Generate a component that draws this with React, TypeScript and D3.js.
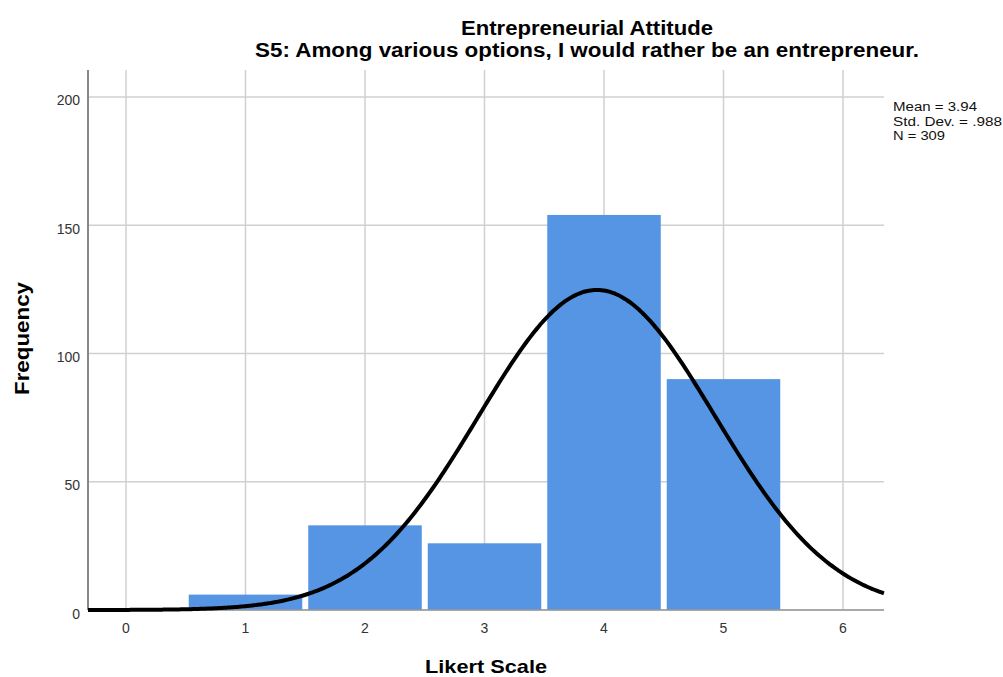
import React from "react";
import * as d3 from "d3";

const categories = [1, 2, 3, 4, 5];
const frequencies = [6, 33, 26, 154, 90];
const xTicks = [0, 1, 2, 3, 4, 5, 6];
const yTicks = [0, 50, 100, 150, 200];
const statMean = 3.94;
const statSd = 0.988;
const statN = 309;
const statLines = ["Mean = 3.94", "Std. Dev. = .988", "N = 309"];
const statWidths = [84, 109, 52];
const titleLines = ["Entrepreneurial Attitude", "S5: Among various options, I would rather be an entrepreneur."];
const titleWidths = [252, 664];

const W = 1003, H = 677;
const left = 88, right = 884, top = 70, bottom = 610;

export default function App() {
  const x = d3.scaleLinear().domain([-0.318, 6.343]).range([left, right]);
  const y = d3.scaleLinear().domain([0, 210.5]).range([bottom, top]);
  const binW = 1;
  const pdf = (v: number) =>
    (statN * binW) / (statSd * Math.sqrt(2 * Math.PI)) * Math.exp(-0.5 * ((v - statMean) / statSd) ** 2);
  const pts = d3.range(-0.318, 6.3431, 0.02).map((v) => [v, pdf(v)] as [number, number]);
  const line = d3.line<[number, number]>().x((d) => x(d[0])).y((d) => y(d[1])).curve(d3.curveBasis);
  const font = "'Liberation Sans', Arial, sans-serif";
  return (
    <svg width={W} height={H} style={{ position: "absolute", left: 0, top: 0, background: "#fff" }} fontFamily={font}>
      <rect width={W} height={H} fill="#fff" />
      {titleLines.map((t, i) => (
        <text key={i} x={587} y={35 + i * 21.5} textAnchor="middle" fontSize={20} fontWeight="bold" fill="#000"
          textLength={titleWidths[i]} lengthAdjust="spacingAndGlyphs">
          {t}
        </text>
      ))}
      {xTicks.map((t) => (
        <line key={"gx" + t} x1={x(t)} x2={x(t)} y1={top} y2={bottom} stroke="#d0d0d0" strokeWidth={1.5} />
      ))}
      {yTicks.map((t) => (
        <line key={"gy" + t} x1={left} x2={right} y1={y(t)} y2={y(t)} stroke="#d0d0d0" strokeWidth={1.5} />
      ))}
      {categories.map((c, i) => (
        <rect
          key={c}
          x={x(c - 0.5) + 3}
          width={x(c + 0.5) - x(c - 0.5) - 6}
          y={y(frequencies[i])}
          height={y(0) - y(frequencies[i])}
          fill="#5595e3"
        />
      ))}
      <line x1={left} x2={left} y1={top} y2={bottom} stroke="#888" strokeWidth={2} />
      <line x1={left} x2={right} y1={bottom} y2={bottom} stroke="#999" strokeWidth={1.5} />
      <path d={line(pts) || ""} fill="none" stroke="#000" strokeWidth={4} />
      {yTicks.map((t) => (
        <text key={"ty" + t} x={80} y={y(t) + 8.5} textAnchor="end" fontSize={14} fill="#333">
          {t}
        </text>
      ))}
      {xTicks.map((t) => (
        <text key={"tx" + t} x={x(t)} y={633} textAnchor="middle" fontSize={14} fill="#333">
          {t}
        </text>
      ))}
      <text x={486} y={673} textAnchor="middle" fontSize={19} fontWeight="bold" fill="#000"
        textLength={122} lengthAdjust="spacingAndGlyphs">
        Likert Scale
      </text>
      <text transform={`translate(29,338.5) rotate(-90)`} textAnchor="middle" fontSize={20} fontWeight="bold" fill="#000"
        textLength={113} lengthAdjust="spacingAndGlyphs">
        Frequency
      </text>
      {statLines.map((s, i) => (
        <text key={i} x={893} y={111 + i * 14.5} fontSize={12.5} fill="#111"
          textLength={statWidths[i]} lengthAdjust="spacingAndGlyphs">
          {s}
        </text>
      ))}
    </svg>
  );
}
